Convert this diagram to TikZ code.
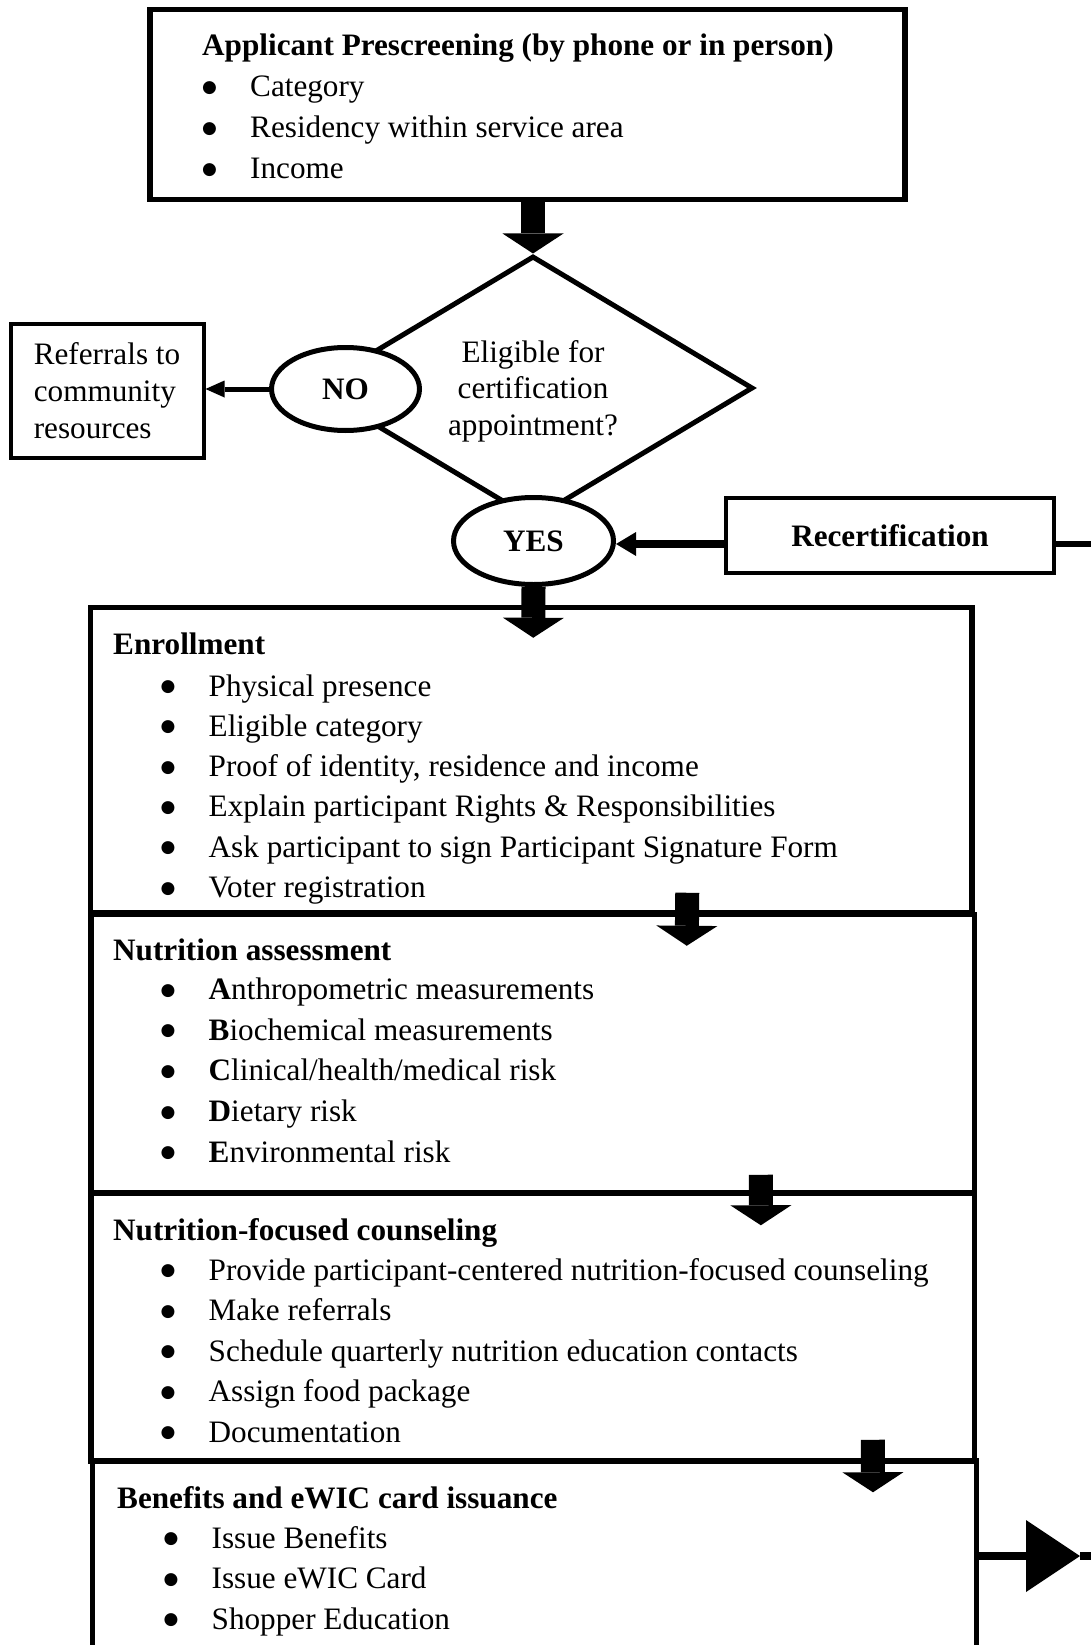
\documentclass[tikz,border=0pt]{standalone}
\usepackage{fontspec}
\setmainfont{Liberation Serif}
\newfontfamily\dotfont{DejaVu Sans}
\usetikzlibrary{arrows.meta,shapes.geometric}
\newcommand{\boxfont}{\fontsize{31.2pt}{40pt}\selectfont}
\newcommand{\itm}{\makebox[47pt][l]{\hspace*{-1pt}\raisebox{4.5pt}{\dotfont\fontsize{17pt}{17pt}\selectfont ●}}}

\begin{document}
\begin{tikzpicture}[x=1pt,y=-1pt]
\tikzstyle{box}=[draw, line width=5.5pt, inner sep=0pt]
\tikzstyle{sbox}=[draw, line width=4pt, inner sep=0pt, font=\boxfont]
\tikzstyle{txt}=[anchor=base west, inner sep=0pt, font=\boxfont]
\tikzstyle{ell}=[ellipse, draw, fill=white, line width=5pt, inner sep=0pt, font=\boxfont\bfseries]
\tikzstyle{fat}=[line width=24pt, -{Triangle[width=61pt,length=20pt,line width=0pt]}]
\useasboundingbox (0,0) rectangle (1091,1645);
%prescreening
\node[box, minimum width=755pt, minimum height=190pt] (pre) at (527.5,104.6) {};
\def\yb{56};
\node[txt] (pret) at (202,\yb) {\bfseries Applicant Prescreening (by phone or in person)};
\node[txt] (pre1) at (203,\yb+41) {\itm Category};
\node[txt] (pre2) at (203,\yb+82) {\itm Residency within service area};
\node[txt] (pre3) at (203,\yb+123) {\itm Income};
%decision
\node[diamond, draw, line width=5pt, minimum width=440pt, minimum height=264pt, aspect=1.67,
  inner sep=0pt] (elig) at (533,388) {};
\node[align=center, inner sep=0pt, font=\fontsize{31.2pt}{36.5pt}\selectfont] (eligt) at (533,391)
  {Eligible for\\certification\\appointment?};
\node[ell, minimum width=148pt, minimum height=83pt] (no) at (345.5,389) {NO};
\node[ell, minimum width=160pt, minimum height=87pt] (yes) at (533.5,541) {YES};
\node[sbox, minimum width=193pt, minimum height=134pt, align=left,
  font=\fontsize{31.2pt}{37pt}\selectfont] (ref) at (107,391) {Referrals to\\community\\resources};
\node[sbox, minimum width=328pt, minimum height=75pt, font=\boxfont\bfseries] (recert) at (890,535.5) {Recertification};
\draw[fat] (pre.south -| elig.north) -- (elig.north);
\draw[line width=5pt, -{Triangle[width=17pt,length=19pt,line width=0pt]}] (no.west) -- (ref.east |- no.west);
\coordinate (rc) at (1100,544);
\draw[line width=8pt, -{Triangle[width=24pt,length=20pt,line width=0pt]}] (recert.west |- rc) -- (yes.east |- rc);
\draw[line width=6pt] (recert.east |- rc) -- (rc);
%enrollment
\node[box, minimum width=881.5pt, minimum height=305.5pt] (enr) at (531.25,760.25) {};
\def\yb{654};
\node[txt] (enrt) at (113,\yb) {\bfseries Enrollment};
\node[txt] (enr1) at (161.5,\yb+42) {\itm Physical presence};
\node[txt] (enr2) at (161.5,\yb+82.3) {\itm Eligible category};
\node[txt] (enr3) at (161.5,\yb+122.6) {\itm Proof of identity, residence and income};
\node[txt] (enr4) at (161.5,\yb+162.9) {\itm Explain participant Rights \& Responsibilities};
\node[txt] (enr5) at (161.5,\yb+203.2) {\itm Ask participant to sign Participant Signature Form};
\node[txt] (enr6) at (161.5,\yb+243.5) {\itm Voter registration};
\draw[fat] (yes.south) -- ([xshift=2pt,yshift=-33pt]enr.north);
%assessment
\node[box, minimum width=883.5pt, minimum height=278.5pt] (nut) at (532.75,1053.75) {};
\def\yb{960};
\node[txt] (nutt) at (113,\yb) {\bfseries Nutrition assessment};
\node[txt] (nut1) at (161.5,\yb+39.5) {\itm{\bfseries A}nthropometric measurements};
\node[txt] (nut2) at (161.5,\yb+80.2) {\itm{\bfseries B}iochemical measurements};
\node[txt] (nut3) at (161.5,\yb+120.9) {\itm{\bfseries C}linical/health/medical risk};
\node[txt] (nut4) at (161.5,\yb+161.6) {\itm{\bfseries D}ietary risk};
\node[txt] (nut5) at (161.5,\yb+202.3) {\itm{\bfseries E}nvironmental risk};
\draw[fat] ([xshift=156pt,yshift=23pt]enr.south) -- ([xshift=154pt,yshift=-34pt]nut.north);
%counseling
\node[box, minimum width=883.7pt, minimum height=268pt] (cou) at (532.85,1327) {};
\def\yb{1240};
\node[txt] (cout) at (113,\yb) {\bfseries Nutrition-focused counseling};
\node[txt] (cou1) at (161.5,\yb+40) {\itm Provide participant-centered nutrition-focused counseling};
\node[txt] (cou2) at (161.5,\yb+80.5) {\itm Make referrals};
\node[txt] (cou3) at (161.5,\yb+121) {\itm Schedule quarterly nutrition education contacts};
\node[txt] (cou4) at (161.5,\yb+161.5) {\itm Assign food package};
\node[txt] (cou5) at (161.5,\yb+202) {\itm Documentation};
\draw[fat] ([xshift=228pt,yshift=21pt]nut.south) -- ([xshift=228pt,yshift=-35pt]cou.north);
%benefits
\node[box, minimum width=883.6pt, minimum height=259pt] (ben) at (534.5,1590.5) {};
\def\yb{1508};
\node[txt] (bent) at (117,\yb) {\bfseries Benefits and eWIC card issuance};
\node[txt] (ben1) at (164.5,\yb+40) {\itm Issue Benefits};
\node[txt] (ben2) at (164.5,\yb+80.5) {\itm Issue eWIC Card};
\node[txt] (ben3) at (164.5,\yb+121) {\itm Shopper Education};
\draw[fat] ([xshift=340pt,yshift=24pt]cou.south) -- ([xshift=338.5pt,yshift=-34pt]ben.north);
\coordinate (bt) at (1080,1556);
\coordinate (bo) at (1100,1556);
\draw[line width=8pt, -{Triangle[width=72pt,length=54pt,line width=0pt]}] (ben.east |- bt) -- (bt);
\draw[line width=8pt] (bt) -- (bo);
\end{tikzpicture}
\end{document}
